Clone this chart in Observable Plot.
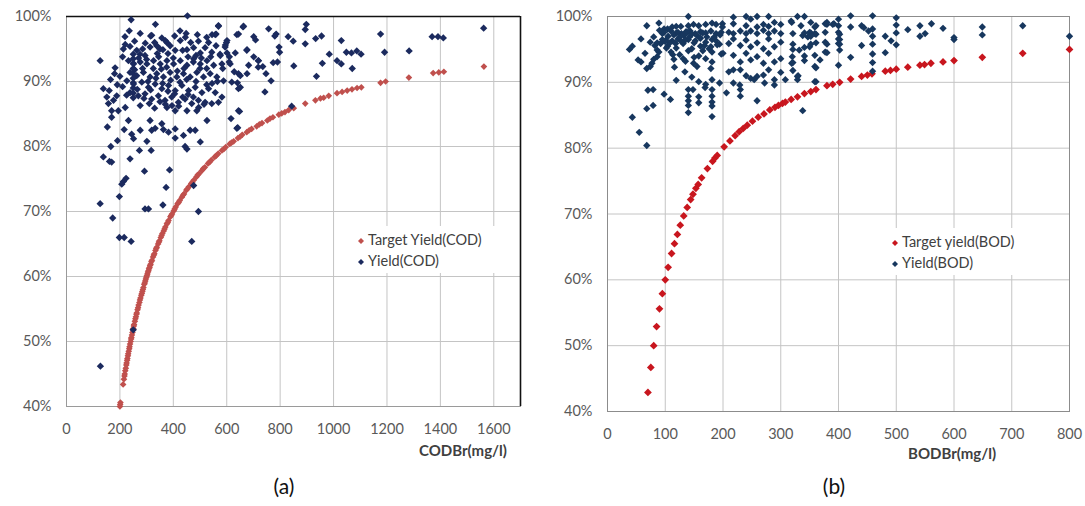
<!DOCTYPE html>
<html><head><meta charset="utf-8">
<script src="https://cdn.jsdelivr.net/npm/d3@7"></script>
<script src="https://cdn.jsdelivr.net/npm/@observablehq/plot@0.6"></script>
<style>
body{margin:0;background:#fff;font-family:Lato,"Open Sans",sans-serif;}
#wrap{position:relative;width:1085px;height:506px;overflow:hidden;}
.panel{position:absolute;top:0;}
.legend{position:absolute;background:#fff;font-size:14.5px;color:#404040;}
.legend .row{position:absolute;left:0;white-space:nowrap;line-height:18px;}
.legend svg{vertical-align:middle;margin-right:3px;}
.title{position:absolute;font-weight:bold;font-size:15px;color:#404040;white-space:nowrap;}
.cap{position:absolute;font-size:21px;color:#111;white-space:nowrap;transform:translateX(-50%);}
</style></head><body>
<div id="wrap">
  <div id="pa" class="panel" style="left:0"></div>
  <div id="pb" class="panel" style="left:545px"></div>
</div>
<script>
// ---------- Panel (a): COD ----------
const codTicksX = [0,200,400,600,800,1000,1200,1400,1600];
const yieldTicks = [40,50,60,70,80,90,100];
const codLabels = {target: "Target Yield(COD)", yield: "Yield(COD)", axis: "CODBr(mg/l)", caption: "(a)"};

// Target Yield(COD): [CODBr, %]
const codTarget = [
[200,40.0],[201,40.3],[202,40.6],[212,43.4],[215,44.2],[217,44.7],[218,45.0],[220,45.5],[222,45.9],[224,46.4],[225,46.7],
[227,47.1],[228,47.4],[230,47.8],[231,48.1],[233,48.5],[235,48.9],[236,49.2],[238,49.6],[240,50.0],[242,50.4],[243,50.6],
[245,51.0],[247,51.4],[249,51.8],[250,52.0],[252,52.4],[253,52.6],[256,53.1],[258,53.5],[260,53.8],[262,54.2],[263,54.4],
[266,54.9],[268,55.2],[270,55.6],[273,56.0],[275,56.4],[277,56.7],[280,57.1],[282,57.4],[284,57.7],[286,58.0],[288,58.3],
[291,58.8],[293,59.0],[295,59.3],[297,59.6],[299,59.9],[301,60.1],[303,60.4],[305,60.7],[307,60.9],[309,61.2],[311,61.4],
[313,61.7],[315,61.9],[318,62.3],[320,62.5],[324,63.0],[327,63.3],[329,63.5],[333,64.0],[336,64.3],[338,64.5],[343,65.0],
[346,65.3],[348,65.5],[353,66.0],[356,66.3],[359,66.6],[364,67.0],[367,67.3],[370,67.6],[376,68.1],[379,68.3],[382,68.6],
[389,69.2],[392,69.4],[395,69.6],[402,70.1],[405,70.4],[409,70.7],[416,71.2],[420,71.4],[424,71.7],[432,72.2],[436,72.5],
[440,72.7],[449,73.3],[453,73.5],[458,73.8],[467,74.3],[471,74.5],[476,74.8],[486,75.3],[491,75.6],[496,75.8],[507,76.3],
[512,76.6],[518,76.8],[530,77.4],[536,77.6],[542,77.9],[555,78.4],[561,78.6],[568,78.9],[582,79.4],[589,79.6],[596,79.9],
[611,80.4],[618,80.6],[626,80.8],[642,81.3],[650,81.5],[658,81.8],[675,82.2],[684,82.5],[693,82.7],[712,83.1],[722,83.4],
[732,83.6],[752,84.0],[762,84.3],[773,84.5],[795,84.9],[806,85.1],[818,85.3],[832,85.6],[851,85.9],[894,86.6],[932,87.1],
[951,87.4],[963,87.5],[982,87.8],[1013,88.2],[1032,88.4],[1051,88.6],[1069,88.8],[1088,89.0],[1104,89.1],[1176,89.8],
[1195,90.0],[1282,90.6],[1373,91.3],[1394,91.4],[1413,91.5],[1563,92.3]
];

// Yield(COD): [CODBr, %]
const codYield = [
[242,99.5],[453,100.1],[333,98.8],[276,97.4],[219,96.9],[319,97.1],[357,96.7],[376,96.0],[426,96.3],[448,97.4],[494,96.2],
[532,96.0],[569,98.5],[557,97.2],[601,96.3],[638,97.2],[661,98.4],[701,96.9],[213,95.0],[238,95.4],[263,94.8],[294,94.0],
[313,95.3],[338,95.5],[361,94.9],[388,95.5],[407,94.8],[451,94.9],[476,95.2],[501,94.4],[519,95.2],[544,94.5],[576,94.0],
[601,94.4],[632,94.4],[676,94.9],[701,93.8],[719,93.2],[126,93.2],[182,92.1],[232,93.2],[251,92.7],[276,93.0],[301,92.7],
[326,93.2],[351,92.7],[376,93.2],[401,92.7],[426,93.2],[451,92.5],[476,93.5],[501,92.7],[526,93.2],[551,92.5],[582,92.7],
[613,92.7],[644,91.2],[676,91.2],[238,91.4],[263,90.9],[288,91.4],[313,90.7],[338,91.2],[363,90.7],[388,91.4],[413,90.7],
[438,91.2],[463,90.7],[488,91.4],[513,90.7],[538,91.2],[563,90.7],[588,90.1],[619,89.9],[651,89.1],[226,90.1],[251,89.6],
[282,89.9],[307,89.1],[332,89.6],[357,88.9],[382,89.4],[407,88.6],[432,89.4],[457,88.6],[482,89.1],[507,88.3],[532,88.9],
[557,88.3],[582,87.6],[238,88.3],[269,87.8],[294,88.1],[319,87.3],[344,87.8],[369,87.1],[394,87.6],[419,86.8],[444,87.3],
[469,86.6],[494,87.1],[519,86.8],[544,86.6],[569,86.8],[276,86.3],[376,86.0],[407,85.5],[451,85.5],[138,88.9],[151,87.6],
[157,86.6],[176,87.1],[188,87.8],[169,85.5],[169,84.5],[194,85.5],[232,84.0],[313,84.0],[357,83.5],[488,85.5],[526,84.0],
[644,85.5],
[153,83.0],[216,82.6],[244,81.9],[251,81.2],[276,82.5],[319,82.5],[332,82.8],[363,82.6],[382,82.2],[407,82.7],[407,81.3],
[438,81.7],[463,82.5],[482,82.5],[501,80.7],[451,79.6],[444,80.0],[638,82.8],[191,80.9],[166,80.0],[138,78.4],[161,77.7],
[169,77.6],[238,78.1],[273,79.4],[317,79.4],[301,80.8],[292,76.2],[386,76.4],[223,75.1],[213,74.6],[207,74.2],[198,72.3],
[373,73.7],[476,74.0],[126,71.2],[294,70.4],[307,70.4],[361,71.0],[494,70.0],[173,69.0],[198,66.0],[216,66.0],[242,65.4],
[469,65.4],[127,46.2],[250,51.8],
[250,87.5],[250,88.2],[250,89.0],[250,89.8],[250,90.5],[250,91.2],[250,92.0],[250,92.8],[250,93.5],[250,94.2],
[345,93.8],[355,91.9],[375,92.2],[390,90.2],[400,93.6],[415,91.6],[425,89.9],[440,92.0],[450,90.3],[360,89.7],[380,88.5],
[405,88.1],[335,90.5],[325,92.0],[315,88.7],[305,90.0],[285,92.0],[275,94.2],[295,95.9],[315,97.0],[330,96.0],[350,95.0],
[370,96.3],[405,97.0],[425,97.8],[445,96.8],[465,96.0],[485,94.0],[505,93.6],[525,92.0],[545,89.7],[565,90.0],[585,92.0],
[455,88.0],[475,87.6],[495,86.0],[515,86.5],[525,89.5],[485,90.0],[435,87.6],[420,86.2],[395,86.3],[370,86.5],[350,86.9],
[330,85.9],[310,86.6],[290,87.4],[265,88.8],[255,91.8],[270,93.6],[285,95.0],[300,93.4],[340,94.3],[380,94.3],[435,94.8],
[455,93.8],[475,93.0],[500,92.0],[540,93.8],[560,95.5],[575,94.2],[595,95.6],[610,93.8],[545,97.2],[525,96.8],[490,97.2],
[255,96.2],[235,97.8],[220,95.7],[210,93.8],[200,90.8],[210,89.2],[225,87.9],[220,86.0],[190,89.5],[180,91.2],[165,90.3],
[160,88.6],
[560,97.3],[569,98.6],[594,95.3],[599,96.0],[609,93.0],[628,91.5],[640,89.8],[644,88.9],[651,90.9],[675,94.8],[682,92.5],
[663,98.5],[644,97.3],[708,96.4],[718,92.2],[718,93.2],[616,84.3],[641,82.9],[648,85.4],[743,88.4],[843,86.2],[936,90.8],
[958,92.8],[851,92.4],[766,90.1],[790,93.0],[774,92.9],[747,91.2],[735,92.3],[757,98.1],[785,97.3],[780,97.0],[830,96.9],
[849,96.2],[798,94.5],[796,95.3],[894,95.8],[898,98.8],[894,98.0],[933,96.6],[955,97.0],[984,94.2],[1029,96.3],[1013,93.2],
[1029,92.7],[1048,94.5],[1067,94.4],[1087,94.7],[1103,94.2],[1070,92.0],[1176,97.3],[1191,94.5],[1283,94.7],[1369,96.9],
[1391,96.9],[1411,96.7],[1562,98.2]
];

// ---------- Panel (b): BOD ----------
const bodTicksX = [0,100,200,300,400,500,600,700,800];
const bodLabels = {target: "Target yield(BOD)", yield: "Yield(BOD)", axis: "BODBr(mg/l)", caption: "(b)"};

// Target yield(BOD): [BODBr, %]
const bodTarget = [
[70,42.9],[75,46.7],[80,50.0],[85,52.9],[90,55.6],[95,57.9],[100,60.0],[105,61.9],[111,64.0],[116,65.5],[121,66.9],
[126,68.3],[132,69.7],[138,71.0],[144,72.2],[148,73.0],[153,73.9],[157,74.5],[163,75.5],[173,76.9],[182,78.0],[186,78.5],
[190,78.9],[202,80.2],[212,81.1],[221,81.9],[228,82.5],[235,83.0],[242,83.5],[251,84.1],[261,84.7],[271,85.2],[281,85.8],
[290,86.2],[296,86.5],[303,86.8],[308,87.0],[318,87.4],[329,87.8],[341,88.3],[352,88.6],[361,88.9],[380,89.5],[390,89.7],
[402,90.0],[421,90.5],[440,90.9],[450,91.1],[458,91.3],[481,91.7],[490,91.8],[500,92.0],[520,92.3],[541,92.6],[549,92.7],
[560,92.9],[581,93.1],[600,93.3],[649,93.8],[719,94.4],[800,95.0]
];

// Yield(BOD): [BODBr, %]
const bodYield = [
[38,95.0],[43,95.5],[58,96.6],[53,93.4],[58,93.1],[68,98.6],[65,94.4],[68,92.1],[74,92.4],[77,92.9],[80,93.5],[86,93.9],
[89,94.6],[82,95.6],[74,96.1],[80,96.9],[89,99.0],[95,97.4],[92,95.9],[86,94.9],[70,88.8],[79,88.9],[68,86.0],[79,86.5],
[43,84.7],[55,82.4],[68,80.4],[98,88.2],[109,87.4],
[98,98.1],[104,98.1],[112,98.4],[119,98.5],[127,98.5],[140,100.0],[140,98.6],[149,98.8],[158,98.6],[170,98.8],[181,99.0],
[188,98.8],[199,98.9],[199,98.4],
[98,97.6],[110,97.8],[119,97.5],[128,97.4],[136,97.7],[143,97.8],[152,97.4],[161,97.7],[170,97.5],[179,97.8],[188,97.4],[197,97.6],
[101,96.4],[112,96.3],[122,96.6],[131,96.1],[140,96.5],[152,96.3],[161,96.7],[170,96.1],[181,96.5],[188,96.3],
[104,95.5],[119,95.2],[131,95.9],[146,95.1],[161,95.5],[179,95.4],[194,95.8],
[113,94.2],[140,94.8],[158,94.0],[181,94.6],[197,94.3],
[115,93.5],[131,93.6],[149,92.9],[170,93.6],[181,93.1],
[116,92.3],[134,91.6],[155,92.4],[179,92.1],
[119,90.3],[146,90.8],[158,90.1],[170,89.7],[181,90.4],[194,89.9],
[140,88.9],[140,87.9],[140,87.2],[140,86.5],[140,85.4],[148,88.9],[158,87.8],[158,86.9],[169,89.2],[181,87.9],[181,87.0],
[181,86.4],[181,84.8],[181,88.9],
[105,97.0],[108,96.0],[115,97.2],[118,95.9],[122,97.6],[125,96.9],[128,96.2],[132,97.1],[135,96.5],[138,97.6],[142,96.9],
[146,97.3],[150,96.0],[155,97.1],[160,96.8],[165,97.5],[168,95.6],[172,96.9],[176,95.1],[185,96.9],[190,95.7],[195,97.2],
[102,95.2],[110,94.6],[125,94.2],[135,93.2],[150,93.8],[165,94.8],[100,96.2],[95,96.5],[90,97.9],[86,96.0],
[218,99.9],[218,98.9],[240,100.0],[240,98.6],[248,99.6],[259,100.0],[259,98.4],[270,98.8],[279,100.0],[279,98.5],[289,99.1],
[300,98.8],
[210,97.6],[218,97.4],[230,97.8],[240,97.4],[248,97.8],[259,97.4],[270,97.9],[279,97.4],[289,97.8],[300,97.4],
[210,95.9],[218,96.6],[230,95.6],[240,96.4],[248,95.4],[259,96.0],[270,95.1],[279,96.6],[289,95.4],[300,96.1],
[200,94.4],[218,94.1],[230,93.1],[240,94.4],[248,93.4],[259,93.9],[270,92.9],[279,94.4],[289,93.1],[300,93.6],
[210,91.6],[218,91.9],[230,91.9],[240,91.0],[248,90.6],[259,90.9],[270,91.1],[279,91.9],[289,90.4],[300,91.5],
[206,88.4],[218,89.9],[230,88.9],[230,87.9],[259,87.2],[254,90.4],[229,89.6],[272,89.9],[289,89.6],[308,90.4],
[319,99.1],[329,100.0],[335,98.6],[341,100.0],[350,97.6],[359,98.4],[359,97.4],[359,94.1],[359,92.4],[359,90.1],[377,98.9],
[377,97.6],[377,96.1],[377,94.6],[380,99.1],[400,99.6],[400,98.6],[400,97.6],[400,96.6],[400,95.9],[400,92.6],[392,98.9],
[332,94.9],[320,93.9],[319,92.9],[329,90.9],[329,90.4],[338,97.1],[347,96.9],[338,85.7],[368,93.4],[350,95.4],
[318,99.3],[321,97.4],[321,95.8],[321,95.0],[321,93.0],[321,91.8],[330,91.0],[341,97.5],[341,95.3],[341,94.0],[341,93.3],
[352,99.1],[352,97.5],[352,97.0],[352,95.8],[361,98.6],[361,97.3],[361,96.0],[361,92.2],[361,90.1],[380,98.8],[380,95.8],
[380,94.5],[390,98.8],[402,97.3],[402,96.5],[402,95.8],[402,94.9],[421,100.1],[421,98.4],[421,93.8],[440,98.6],[440,95.6],
[444,98.3],[459,100.1],[459,98.1],[459,97.0],[459,95.8],[459,94.3],[459,93.0],[459,91.7],[452,97.8],[481,97.0],[481,94.5],
[491,96.3],[500,99.8],[500,98.7],[500,97.5],[500,95.7],[520,98.0],[541,98.6],[541,97.0],[550,97.4],[561,98.9],[581,98.2],
[600,96.8],[600,96.5],[649,98.4],[649,97.2],[719,98.6],[800,97.0]
];

function panel(o) {
  const xy = {x: d => d[0], y: d => d[1]};
  const marks = [
    Plot.gridX(o.xTicks, {stroke: "#c4c4c4", strokeOpacity: 1}),
    Plot.gridY(yieldTicks, {stroke: "#c4c4c4", strokeOpacity: 1}),
    Plot.frame({stroke: o.frame}),
    Plot.axisX(o.xTicks, {tickSize: 0, tickPadding: 17, label: null, fill: "#595959", fontSize: 14.5, tickFormat: d => String(d)}),
    Plot.axisY(yieldTicks, {tickSize: 0, tickPadding: 15, label: null, fill: "#595959", fontSize: 14.5, tickFormat: d => d + "%"})
  ];
  if (o.dark) {
    marks.push(Plot.ruleY([100], {stroke: "#111", strokeWidth: 1.6}));
    marks.push(Plot.ruleX([o.xDomain[1]], {stroke: "#111", strokeWidth: 1.6}));
  }
  marks.push(Plot.dot(o.target, {...xy, symbol: "diamond2", r: o.rT, fill: o.targetColor, stroke: null}));
  marks.push(Plot.dot(o.yield, {...xy, symbol: "diamond2", r: o.rY, fill: o.yieldColor, stroke: null}));
  return Plot.plot({
    width: o.width, height: 470,
    marginTop: 16, marginBottom: o.mb, marginLeft: o.ml, marginRight: o.mr,
    style: {fontFamily: "Lato, sans-serif", fontSize: "14.5px", background: "transparent", overflow: "visible"},
    x: {domain: o.xDomain},
    y: {domain: [40, 100]},
    marks
  });
}

function diamond(color, s) {
  return `<svg width="${s*2+2}" height="${s*2+2}"><polygon points="${s+1},1 ${2*s+1},${s+1} ${s+1},${2*s+1} 1,${s+1}" fill="${color}"/></svg>`;
}

function addExtras(el, o, labels) {
  const lg = document.createElement("div");
  lg.className = "legend";
  lg.style.cssText = `left:${o.lgLeft}px;top:${o.lgTop}px;width:${o.lgWidth}px;height:47px;`;
  lg.innerHTML = `<div class="row" style="top:5px">${diamond(o.targetColor, 3)}${labels.target}</div>
                  <div class="row" style="top:26px">${diamond(o.yieldColor, 3)}${labels.yield}</div>`;
  el.appendChild(lg);
  const t = document.createElement("div");
  t.className = "title";
  t.style.cssText = `left:${o.titleLeft}px;top:${o.titleTop}px;`;
  t.textContent = labels.axis;
  el.appendChild(t);
  const c = document.createElement("div");
  c.className = "cap";
  c.style.cssText = `left:${o.capX}px;top:473px;`;
  c.textContent = labels.caption;
  el.appendChild(c);
}

const oa = {width: 545, ml: 66, mr: 25, mb: 64, xDomain: [0, 1700], xTicks: codTicksX,
  target: codTarget, yield: codYield, targetColor: "#c0504d", yieldColor: "#1b2a5e", rT: 3.0, rY: 3.3,
  frame: "#9a9a9a", dark: true,
  lgLeft: 357, lgTop: 226, lgWidth: 162, titleLeft: 419, titleTop: 441, capX: 284};
const ob = {width: 540, ml: 62, mr: 16, mb: 59, xDomain: [0, 800], xTicks: bodTicksX,
  target: bodTarget, yield: bodYield, targetColor: "#c8161e", yieldColor: "#17375e", rT: 3.5, rY: 3.3,
  frame: "#8c8c8c", dark: false,
  lgLeft: 346, lgTop: 228, lgWidth: 177, titleLeft: 363, titleTop: 444, capX: 289};

const pa = document.getElementById("pa");
pa.appendChild(panel(oa));
addExtras(pa, oa, codLabels);
const pb = document.getElementById("pb");
pb.appendChild(panel(ob));
addExtras(pb, ob, bodLabels);
</script>
</body></html>
